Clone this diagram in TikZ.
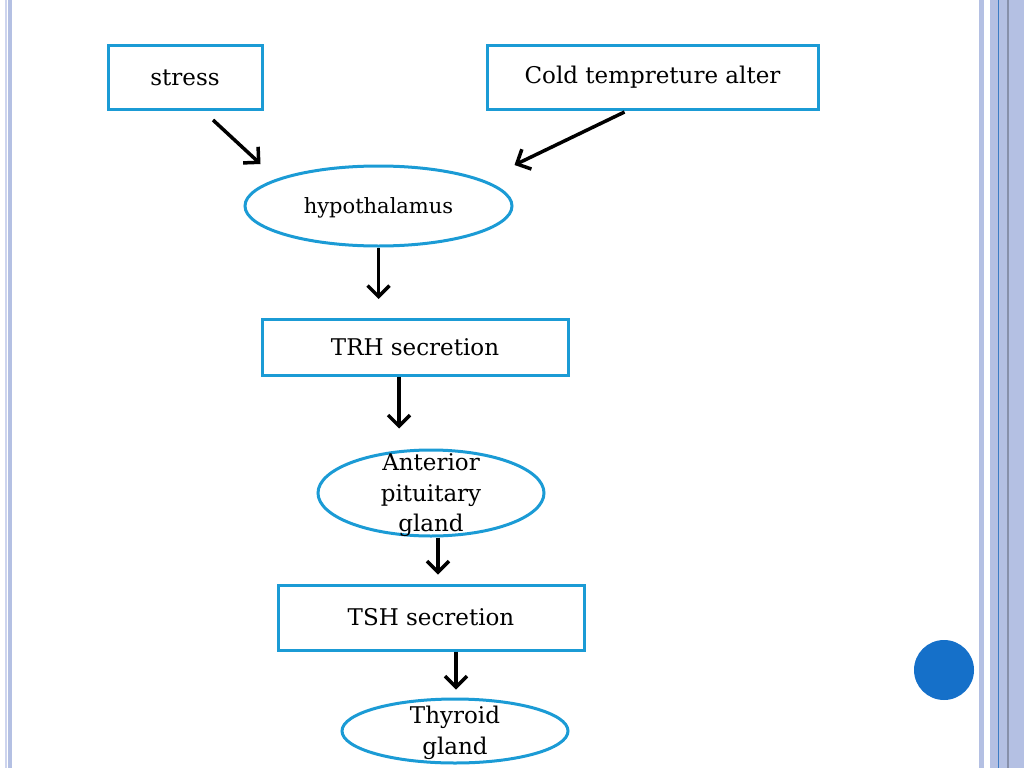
\documentclass[tikz,border=0pt]{standalone}
\usepackage{fontspec}
\setmainfont{DejaVu Serif}
\usetikzlibrary{arrows.meta,shapes.geometric}
\definecolor{edgeblue}{HTML}{1B9BD5}
\definecolor{lavender}{HTML}{B4C0E3}
\definecolor{palelav}{HTML}{CDD4EE}
\definecolor{dotblue}{HTML}{1570C9}
\definecolor{lineblue}{HTML}{3C7CC4}

\tikzset{
  stepbox/.style={draw=edgeblue, line width=3pt, inner sep=0pt, font=\fontsize{23}{27}\selectfont},
  organ/.style={ellipse, draw=edgeblue, line width=3pt, inner sep=0pt},
  flow/.style={draw=black, line width=3.5pt, -{Straight Barb[length=11pt,width=22pt,line width=3.5pt]}}
}

\begin{document}
\begin{tikzpicture}[x=1pt,y=-1pt]
\useasboundingbox (0,0) rectangle (1024,768);

% Slide borders
\fill[palelav] (5,0) rectangle (6.5,768);
\fill[lavender] (7.5,0) rectangle (12,768);
\fill[lavender] (979,0) rectangle (983.5,768);
\fill[lavender] (990,0) rectangle (1024,768);
\fill[black!25!lavender] (1007,0) rectangle (1008.5,768);
\fill[lineblue] (997.7,0) rectangle (999,768);
\fill[dotblue] (944,670) circle (30);

% Boxes
\node[stepbox, minimum width=154, minimum height=64] (stress) at (185,77.5) {stress};
\node[stepbox, minimum width=331, minimum height=64] (cold) at (652.5,77.5) {Cold tempreture alter};
\node[organ, minimum width=267, minimum height=80,
  label={[font=\fontsize{21}{25}\selectfont, yshift=-2]center:hypothalamus}] (hyp) at (378.5,206) {};
\node[stepbox, minimum width=306, minimum height=56] (trh) at (415,347.5) {TRH secretion};
\node[organ, minimum width=226, minimum height=86,
  label={[align=center, font=\fontsize{23}{30.5}\selectfont, yshift=-2.5]center:Anterior\\pituitary\\gland}] (apg) at (431,493) {};
\node[stepbox, minimum width=306, minimum height=65] (tsh) at (431,617.5) {TSH secretion};
\node[organ, minimum width=226, minimum height=64,
  label={[align=center, font=\fontsize{23}{30.5}\selectfont, yshift=-2]center:Thyroid\\gland}] (thy) at (455,731) {};

% Arrows
\draw[flow] ([shift={(28,9)}]stress.south) -- ([shift={(-118,-42)}]hyp.center);
\draw[flow] ([shift={(-28,1)}]cold.south) -- ([shift={(136,-41)}]hyp.center);
\draw[flow] (hyp.south) -- ([yshift=19]hyp.south |- trh.north);
\draw[flow] ([xshift=-16]trh.south) -- ([xshift=-16,yshift=20]trh.south |- apg.north);
\draw[flow] ([xshift=7]apg.south) -- ([xshift=7,yshift=9]apg.south |- tsh.north);
\draw[flow] ([xshift=25]tsh.south) -- ([xshift=25,yshift=8]tsh.south |- thy.north);
\end{tikzpicture}
\end{document}
